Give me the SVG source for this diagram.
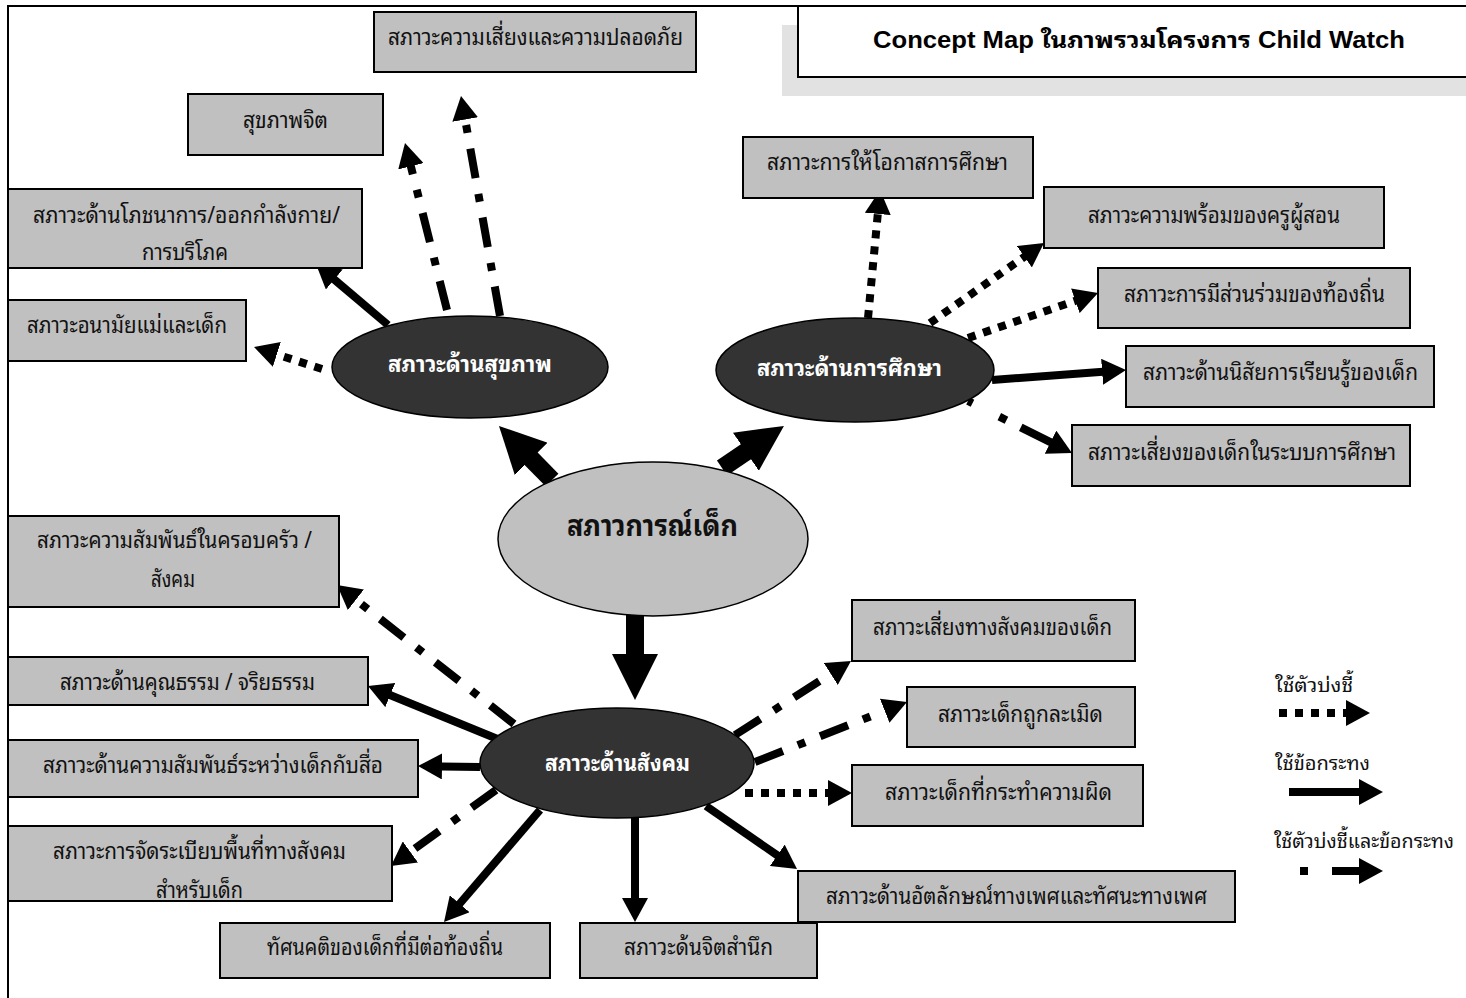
<svg xmlns="http://www.w3.org/2000/svg" width="1466" height="998" viewBox="0 0 1466 998">
<style>
.box{fill:#c0c0c0;stroke:#000;stroke-width:2}
.t{font-family:"Noto Sans Thai Looped","Noto Sans Thai","Noto Serif Thai","Liberation Sans",sans-serif;font-size:23px;fill:#111}
.lg{font-family:"Noto Sans Thai Looped","Noto Sans Thai","Noto Serif Thai","Liberation Sans",sans-serif;font-size:20px;fill:#111}
.tw{font-family:"Noto Sans Thai Looped","Noto Sans Thai","Noto Serif Thai","Liberation Sans",sans-serif;font-size:23px;fill:#fff;font-weight:bold}
.tc{font-family:"Noto Sans Thai Looped","Noto Sans Thai","Noto Serif Thai","Liberation Sans",sans-serif;font-size:29px;fill:#111;font-weight:bold}
.title{font-family:"Liberation Sans","Noto Sans Thai Looped","Noto Sans Thai",sans-serif;font-size:23px;font-weight:bold;fill:#000}
.dk{fill:#333;stroke:#000;stroke-width:1.5}
.c{fill:none;stroke:#000;stroke-width:8;stroke-linecap:butt}
.dot{stroke-dasharray:8 8}
.dd{stroke-dasharray:30 16 8 16}
.big{fill:none;stroke:#000;stroke-width:18}
</style>
<defs>
<marker id="ah" markerUnits="userSpaceOnUse" viewBox="0 0 24 26" markerWidth="24" markerHeight="26" refX="1" refY="13" orient="auto"><path d="M0,0 L24,13 L0,26 z" fill="#000"/></marker>
<marker id="bh" markerUnits="userSpaceOnUse" viewBox="0 0 46 46" markerWidth="46" markerHeight="46" refX="1" refY="23" orient="auto"><path d="M0,0 L46,23 L0,46 z" fill="#000"/></marker>
<clipPath id="clip13"><rect x="9" y="827" width="382" height="73"/></clipPath>
</defs>
<rect width="1466" height="998" fill="#fff"/>
<path d="M8,998 L8,6 L1466,6" fill="none" stroke="#000" stroke-width="2"/>
<g id="title">
<rect x="782" y="25" width="684" height="71" fill="#e2e2e2"/>
<rect x="798" y="6" width="672" height="71" fill="#fff" stroke="#000" stroke-width="2"/>
<text class="title" x="873" y="48" textLength="532" lengthAdjust="spacingAndGlyphs">Concept Map ในภาพรวมโครงการ Child Watch</text>
</g>
<g id="connectors">
<line class="big" x1="552" y1="480" x2="530.5" y2="458.1" marker-end="url(#bh)"/>
<line class="big" x1="722" y1="468" x2="746.7" y2="451.2" marker-end="url(#bh)"/>
<line class="big" x1="635" y1="614" x2="635" y2="655" marker-end="url(#bh)"/>
<line class="c dd" x1="500" y1="316" x2="465" y2="118.6" marker-end="url(#ah)"/>
<line class="c dd" x1="447" y1="310" x2="410.6" y2="165.3" marker-end="url(#ah)"/>
<line class="c" x1="388" y1="325" x2="333.5" y2="278.9" marker-end="url(#ah)"/>
<line class="c dot" x1="322" y1="369" x2="275.9" y2="354.1" marker-end="url(#ah)"/>
<line class="c dot" x1="868" y1="318" x2="877.9" y2="212.9" marker-end="url(#ah)"/>
<line class="c dot" x1="930" y1="323" x2="1025.2" y2="256.2" marker-end="url(#ah)"/>
<line class="c dot" x1="968" y1="338" x2="1076.3" y2="300.5" marker-end="url(#ah)"/>
<line class="c" x1="992" y1="380" x2="1103.1" y2="371.7" marker-end="url(#ah)"/>
<line class="c" x1="968" y1="401" x2="1051.4" y2="442.7" marker-end="url(#ah)" stroke-dasharray="5 30 8 16 40 10"/>
<line class="c dd" x1="514" y1="724" x2="355.1" y2="599.2" marker-end="url(#ah)"/>
<line class="c" x1="500" y1="740" x2="389.3" y2="694.7" marker-end="url(#ah)"/>
<line class="c" x1="480" y1="767" x2="441" y2="766.4" marker-end="url(#ah)"/>
<line class="c dd" x1="496" y1="790" x2="409.6" y2="852.5" marker-end="url(#ah)"/>
<line class="c" x1="540" y1="810" x2="459" y2="904.5" marker-end="url(#ah)"/>
<line class="c" x1="635" y1="818" x2="635" y2="899" marker-end="url(#ah)"/>
<line class="c" x1="706" y1="806" x2="778.1" y2="855.9" marker-end="url(#ah)"/>
<line class="c dot" x1="745" y1="793" x2="829" y2="793" marker-end="url(#ah)"/>
<line class="c dd" x1="755" y1="762" x2="885.6" y2="710.4" marker-end="url(#ah)"/>
<line class="c dd" x1="735" y1="735" x2="831.6" y2="673.4" marker-end="url(#ah)"/>
</g>
<g id="n-risk"><rect class="box" x="374" y="12" width="322" height="60"/><text class="t" x="388" y="45" textLength="295" lengthAdjust="spacingAndGlyphs">สภาวะความเสี่ยงและความปลอดภัย</text></g>
<g id="n-mental"><rect class="box" x="188" y="94" width="195" height="61"/><text class="t" x="243" y="128" textLength="85" lengthAdjust="spacingAndGlyphs">สุขภาพจิต</text></g>
<g id="n-nutrition"><rect class="box" x="8" y="189" width="354" height="79"/><text class="t" x="33" y="223" textLength="307" lengthAdjust="spacingAndGlyphs">สภาวะด้านโภชนาการ/ออกกำลังกาย/</text><text class="t" x="142" y="260" textLength="86" lengthAdjust="spacingAndGlyphs">การบริโภค</text></g>
<g id="n-maternal"><rect class="box" x="8" y="300" width="238" height="61"/><text class="t" x="27" y="333" textLength="200" lengthAdjust="spacingAndGlyphs">สภาวะอนามัยแม่และเด็ก</text></g>
<g id="n-opportunity"><rect class="box" x="743" y="137" width="290" height="61"/><text class="t" x="767" y="170" textLength="241" lengthAdjust="spacingAndGlyphs">สภาวะการให้โอกาสการศึกษา</text></g>
<g id="n-teacher"><rect class="box" x="1044" y="187" width="340" height="61"/><text class="t" x="1088" y="223" textLength="252" lengthAdjust="spacingAndGlyphs">สภาวะความพร้อมของครูผู้สอน</text></g>
<g id="n-local"><rect class="box" x="1098" y="268" width="312" height="60"/><text class="t" x="1124" y="302" textLength="261" lengthAdjust="spacingAndGlyphs">สภาวะการมีส่วนร่วมของท้องถิ่น</text></g>
<g id="n-habit"><rect class="box" x="1126" y="346" width="308" height="61"/><text class="t" x="1143" y="380" textLength="275" lengthAdjust="spacingAndGlyphs">สภาวะด้านนิสัยการเรียนรู้ของเด็ก</text></g>
<g id="n-edrisk"><rect class="box" x="1072" y="425" width="338" height="61"/><text class="t" x="1088" y="460" textLength="308" lengthAdjust="spacingAndGlyphs">สภาวะเสี่ยงของเด็กในระบบการศึกษา</text></g>
<g id="n-health"><ellipse class="dk" cx="470" cy="367" rx="138" ry="51"/><text class="tw" x="388" y="372" textLength="164" lengthAdjust="spacingAndGlyphs">สภาวะด้านสุขภาพ</text></g>
<g id="n-education"><ellipse class="dk" cx="855" cy="370" rx="139" ry="52"/><text class="tw" x="757" y="376" textLength="185" lengthAdjust="spacingAndGlyphs">สภาวะด้านการศึกษา</text></g>
<g id="n-center"><ellipse cx="653" cy="539" rx="155" ry="77" fill="#c0c0c0" stroke="#000" stroke-width="1.5"/><text class="tc" x="567" y="536" textLength="171" lengthAdjust="spacingAndGlyphs">สภาวการณ์เด็ก</text></g>
<g id="n-social"><ellipse class="dk" cx="617" cy="763" rx="137" ry="55"/><text class="tw" x="545" y="771" textLength="145" lengthAdjust="spacingAndGlyphs">สภาวะด้านสังคม</text></g>
<g id="n-family"><rect class="box" x="8" y="516" width="331" height="91"/><text class="t" x="37" y="548" textLength="275" lengthAdjust="spacingAndGlyphs">สภาวะความสัมพันธ์ในครอบครัว /</text><text class="t" x="151" y="587" textLength="44" lengthAdjust="spacingAndGlyphs">สังคม</text></g>
<g id="n-moral"><rect class="box" x="8" y="657" width="360" height="48"/><text class="t" x="60" y="690" textLength="255" lengthAdjust="spacingAndGlyphs">สภาวะด้านคุณธรรม / จริยธรรม</text></g>
<g id="n-media"><rect class="box" x="8" y="740" width="410" height="57"/><text class="t" x="43" y="773" textLength="340" lengthAdjust="spacingAndGlyphs">สภาวะด้านความสัมพันธ์ระหว่างเด็กกับสื่อ</text></g>
<g id="n-space"><rect class="box" x="8" y="826" width="384" height="75"/><text class="t" x="53" y="859" textLength="293" lengthAdjust="spacingAndGlyphs">สภาวะการจัดระเบียบพื้นที่ทางสังคม</text><text class="t" x="156" y="898" textLength="87" lengthAdjust="spacingAndGlyphs" clip-path="url(#clip13)">สำหรับเด็ก</text></g>
<g id="n-attitude"><rect class="box" x="220" y="923" width="330" height="55"/><text class="t" x="267" y="955" textLength="236" lengthAdjust="spacingAndGlyphs">ทัศนคติของเด็กที่มีต่อท้องถิ่น</text></g>
<g id="n-conscience"><rect class="box" x="580" y="923" width="237" height="55"/><text class="t" x="624" y="955" textLength="149" lengthAdjust="spacingAndGlyphs">สภาวะด้นจิตสำนึก</text></g>
<g id="n-identity"><rect class="box" x="798" y="871" width="437" height="51"/><text class="t" x="826" y="904" textLength="381" lengthAdjust="spacingAndGlyphs">สภาวะด้านอัตลักษณ์ทางเพศและทัศนะทางเพศ</text></g>
<g id="n-socrisk"><rect class="box" x="852" y="600" width="283" height="61"/><text class="t" x="873" y="635" textLength="239" lengthAdjust="spacingAndGlyphs">สภาวะเสี่ยงทางสังคมของเด็ก</text></g>
<g id="n-abuse"><rect class="box" x="907" y="687" width="228" height="60"/><text class="t" x="938" y="722" textLength="165" lengthAdjust="spacingAndGlyphs">สภาวะเด็กถูกละเมิด</text></g>
<g id="n-offender"><rect class="box" x="852" y="765" width="291" height="61"/><text class="t" x="885" y="800" textLength="227" lengthAdjust="spacingAndGlyphs">สภาวะเด็กที่กระทำความผิด</text></g>
<g id="legend">
<text class="lg" x="1275" y="692" textLength="78" lengthAdjust="spacingAndGlyphs">ใช้ตัวบ่งชี้</text>
<line class="c dot" x1="1279" y1="713" x2="1347" y2="713" marker-end="url(#ah)"/>
<text class="lg" x="1275" y="770" textLength="95" lengthAdjust="spacingAndGlyphs">ใช้ข้อกระทง</text>
<line class="c" x1="1289" y1="792" x2="1360" y2="792" marker-end="url(#ah)"/>
<text class="lg" x="1274" y="848" textLength="180" lengthAdjust="spacingAndGlyphs">ใช้ตัวบ่งชี้และข้อกระทง</text>
<rect x="1300" y="867" width="8" height="8" fill="#000"/>
<line class="c" x1="1332" y1="871" x2="1360" y2="871" marker-end="url(#ah)"/>
</g>
</svg>
